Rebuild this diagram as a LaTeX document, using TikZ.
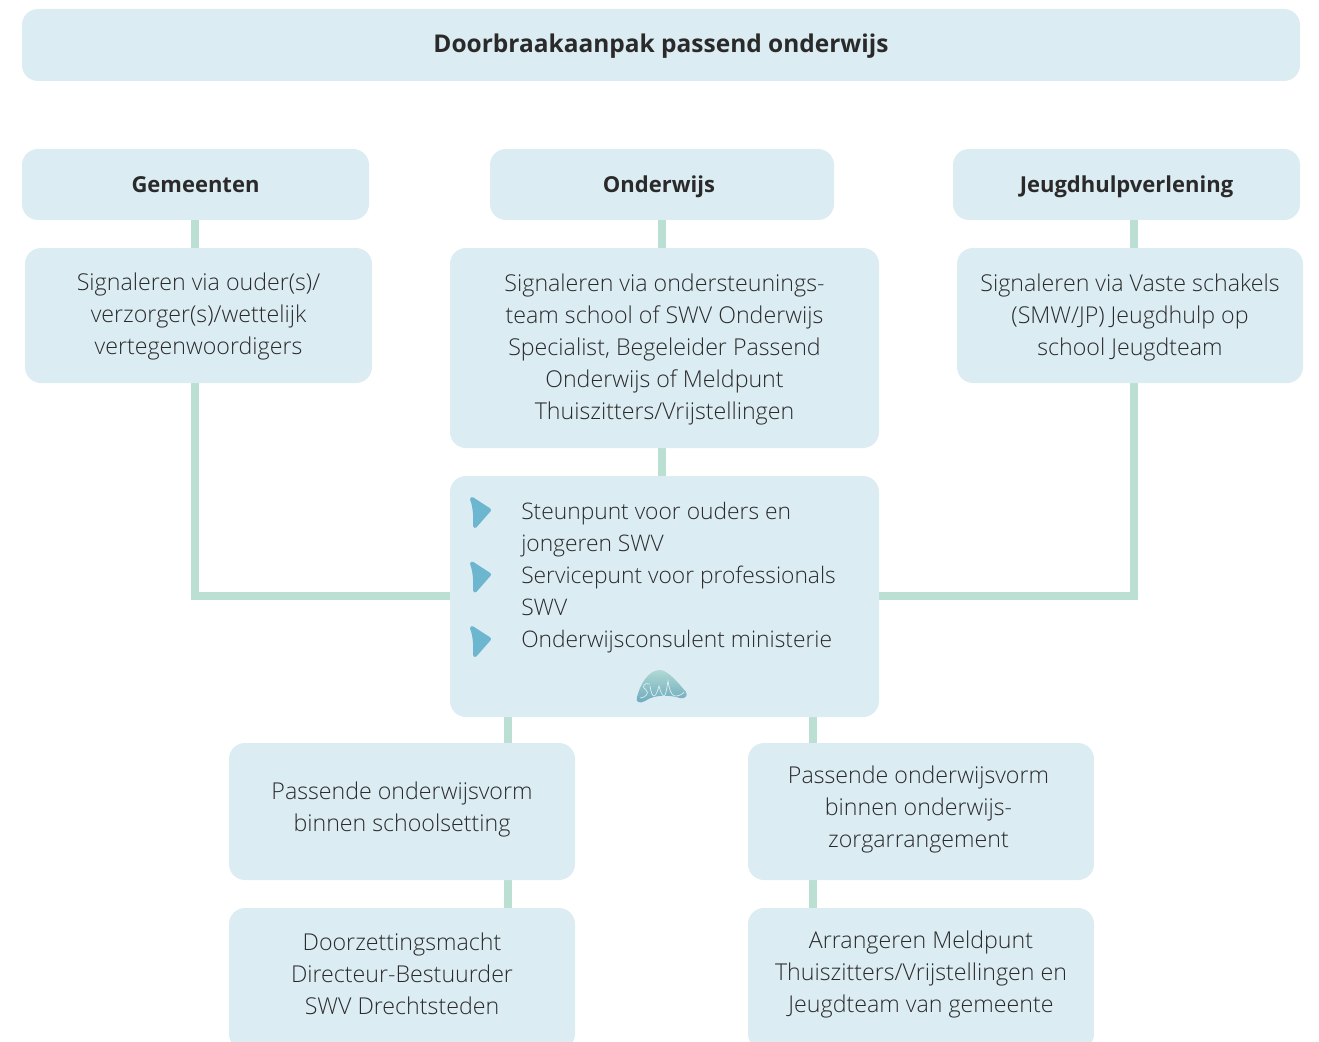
\documentclass[tikz,border=0pt]{standalone}
\usepackage{fontspec}
\setmainfont{Open Sans Light}
\newfontfamily\hb{Open Sans}
\usetikzlibrary{backgrounds}
\definecolor{boxfill}{HTML}{DCECF3}
\definecolor{link}{HTML}{BBDFD3}
\definecolor{ink}{HTML}{2A2A2A}
\definecolor{bul}{HTML}{6DB6CF}
\tikzset{x=0.75pt,y=-0.75pt,
 card/.style={fill=boxfill,rounded corners=12pt,inner sep=0pt,text=ink,align=center,anchor=center,font=\fontsize{17.4}{24}\selectfont},
 head/.style={card,font=\fontsize{16.5}{24}\selectfont\hb\bfseries},
 listtext/.style={anchor=west,inner sep=0pt,text=ink,align=left,font=\fontsize{17.1}{24}\selectfont},
 linkline/.style={draw=link,line width=6pt,line join=miter}}
\newsavebox{\liftbox}
\newcommand{\lift}[2]{\sbox{\liftbox}{\begin{tabular}{@{}c@{}}#2\end{tabular}}\raisebox{#1}[\ht\liftbox][\dp\liftbox]{\usebox{\liftbox}}}
\newcommand{\card}[7][card]{\node[#1,minimum width=#4*0.75pt-#2*0.75pt,minimum height=#5*0.75pt-#3*0.75pt] (#6) at ({(#2+#4)/2},{(#3+#5)/2}) {#7};}
\newcommand{\bulletat}[2]{\filldraw[bul,line width=3pt,line join=round,shift={(#1,#2)}] (-8,-13) -- (9,-2) -- (-5,14) .. controls (-4.5,4) and (-5,-5) .. (-8,-13) -- cycle;}
\begin{document}
\begin{tikzpicture}
\useasboundingbox (0,0) rectangle (1319,1041);
\clip (0,0) rectangle (1319,1041);
\card[head]{22}{9}{1300}{81}{title}{\lift{-0.75pt}{\fontsize{18.35}{24}\selectfont\hb\bfseries Doorbraakaanpak passend onderwijs}}
\card[head]{22}{149}{369}{220}{gem}{\lift{-1.5pt}{Gemeenten}}
\card[head]{490}{149}{834}{220}{ond}{\hspace*{-4.5pt}\lift{-1.5pt}{Onderwijs}}
\card[head]{953}{149}{1300}{220}{jeu}{\lift{-1.5pt}{Jeugdhulpverlening}}
\card{25}{248}{372}{383}{sa}{\lift{-0.75pt}{Signaleren via ouder(s)/\\verzorger(s)/wettelijk\\vertegenwoordigers}}
\card{450}{248}{879}{448}{sb}{\lift{-0.75pt}{Signaleren via ondersteunings-\\team school of SWV Onderwijs\\Specialist, Begeleider Passend\\Onderwijs of Meldpunt\\Thuiszitters/Vrijstellingen}}
\card{957}{248}{1303}{383}{sc}{\lift{-1.5pt}{Signaleren via Vaste schakels\\(SMW/JP) Jeugdhulp op\\school Jeugdteam}}
\card{450}{476}{879}{717}{hub}{}
\card{229}{743}{575}{880}{pa}{\lift{1.5pt}{Passende onderwijsvorm\\binnen schoolsetting}}
\card{748}{743}{1094}{880}{pb}{\hspace*{-3.75pt}\lift{1.5pt}{Passende onderwijsvorm\\binnen onderwijs-\\zorgarrangement}}
\card{229}{908}{575}{1050}{da}{\lift{2.25pt}{Doorzettingsmacht\\Directeur-Bestuurder\\SWV Drechtsteden}}
\card{748}{908}{1094}{1050}{db}{\lift{3.75pt}{Arrangeren Meldpunt\\Thuiszitters/Vrijstellingen en\\Jeugdteam van gemeente}}
\node[listtext] (l1) at (521,530) {Steunpunt voor ouders en\\jongeren SWV};
\node[listtext] (l2) at (521,591) {Servicepunt voor professionals\\SWV};
\node[listtext] (l3) at (521,642) {Onderwijsconsulent ministerie};
\bulletat{480}{512}
\bulletat{480}{576.5}
\bulletat{480}{641}
\shade[top color=link!85!bul,bottom color=bul!90!black!95] (637,697) .. controls (640,685) and (648,670) .. (660,670) .. controls (668,670) and (680,685) .. (686,692) .. controls (688,696) and (685,699) .. (680,698) .. controls (670,695) and (655,694) .. (645,701) .. controls (640,704) and (635,702) .. (637,697) -- cycle;
\draw[white,line width=0.5pt,opacity=.75] (650,684) .. controls (644,682) and (641,687) .. (646,690) .. controls (650,693) and (645,698) .. (640,698);
\draw[white,line width=0.5pt,opacity=.75] (650,686) .. controls (651,692) and (652,696) .. (654,696) .. controls (656,696) and (658,690) .. (659,686) .. controls (660,690) and (662,696) .. (664,696) .. controls (666,696) and (667,686) .. (668,681) .. controls (669,688) and (671,696) .. (675,696) .. controls (678,696) and (682,695) .. (684,692);
\coordinate (xa) at (195,0);
\coordinate (xb) at (662,0);
\coordinate (xc) at (1134,0);
\coordinate (xd) at (508,0);
\coordinate (xe) at (813,0);
\coordinate (yh) at (0,596);
\begin{scope}[on background layer]
\draw[linkline] (gem.south -| xa) -- (sa.north -| xa);
\draw[linkline] (ond.south -| xb) -- (sb.north -| xb);
\draw[linkline] (jeu.south -| xc) -- (sc.north -| xc);
\draw[linkline] (sb.south -| xb) -- (hub.north -| xb);
\draw[linkline] (sa.south -| xa) -- (xa |- yh) -- (hub.west |- yh);
\draw[linkline] (sc.south -| xc) -- (xc |- yh) -- (hub.east |- yh);
\draw[linkline] (hub.south -| xd) -- (pa.north -| xd);
\draw[linkline] (hub.south -| xe) -- (pb.north -| xe);
\draw[linkline] (pa.south -| xd) -- (da.north -| xd);
\draw[linkline] (pb.south -| xe) -- (db.north -| xe);
\end{scope}
\end{tikzpicture}
\end{document}
